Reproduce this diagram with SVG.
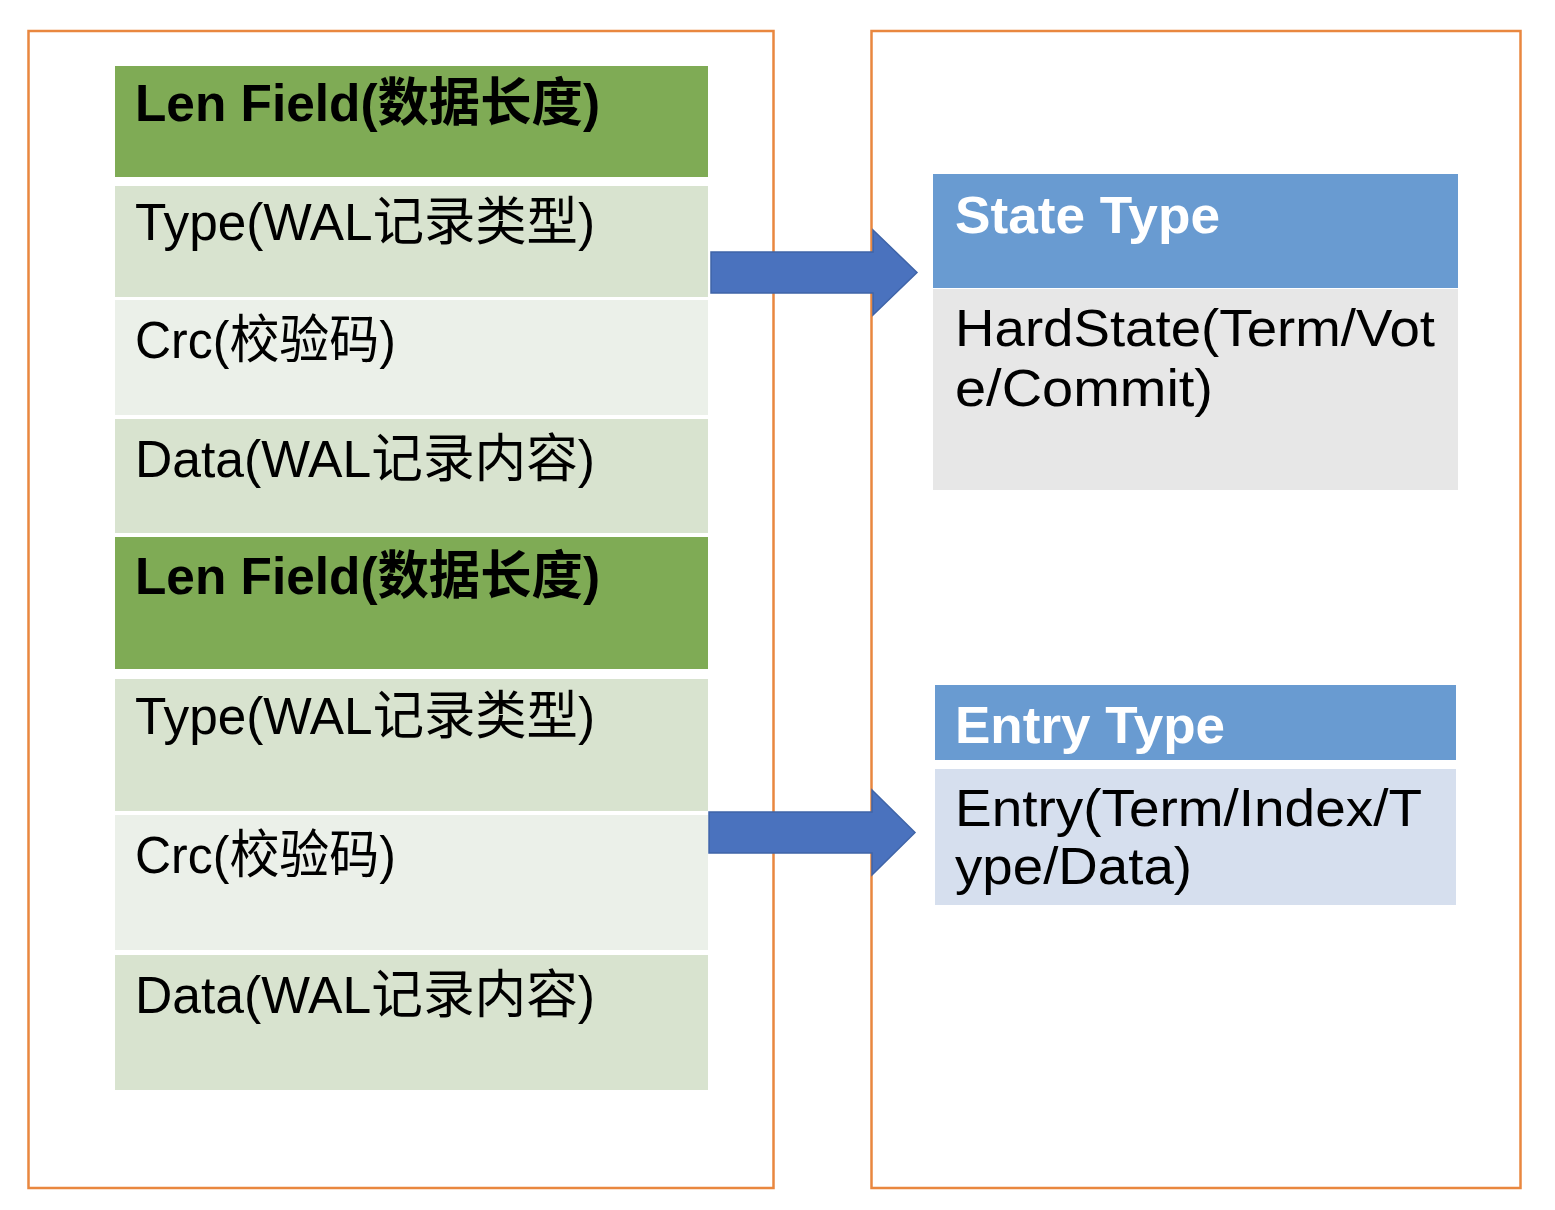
<svg xmlns="http://www.w3.org/2000/svg" width="1555" height="1210" viewBox="0 0 1555 1210">
<style>
.frame{fill:none;stroke:#E9873F;stroke-width:2.5}
.len{fill:#7FAB55}
.lg{fill:#D8E3CF}
.xl{fill:#EBF0E9}
.hdr{fill:#699BD1}
.t{font-family:"Liberation Sans","Noto Sans CJK SC",sans-serif;font-size:52px;fill:#000}
.b{font-weight:bold}
.w{fill:#fff}
.arrow{fill:#4A72BE;stroke:#3F64A8;stroke-width:1.5}
</style>
<rect width="1555" height="1210" fill="#fff"/>
<g id="frames">
<rect class="frame" x="28.5" y="31" width="745" height="1157"/>
<rect class="frame" x="871.5" y="31" width="649" height="1157"/>
</g>
<g id="len1"><rect class="len" x="115" y="66" width="593" height="111"/><text class="t b" x="135" y="121" textLength="465" lengthAdjust="spacingAndGlyphs">Len Field(数据长度)</text></g>
<g id="type1"><rect class="lg" x="115" y="186" width="593" height="111"/><text class="t" x="135" y="240" textLength="460" lengthAdjust="spacingAndGlyphs">Type(WAL记录类型)</text></g>
<g id="crc1"><rect class="xl" x="115" y="300" width="593" height="115"/><text class="t" x="135" y="358" textLength="261" lengthAdjust="spacingAndGlyphs">Crc(校验码)</text></g>
<g id="data1"><rect class="lg" x="115" y="419" width="593" height="114"/><text class="t" x="135" y="477" textLength="460" lengthAdjust="spacingAndGlyphs">Data(WAL记录内容)</text></g>
<g id="len2"><rect class="len" x="115" y="537" width="593" height="132"/><text class="t b" x="135" y="594" textLength="465" lengthAdjust="spacingAndGlyphs">Len Field(数据长度)</text></g>
<g id="type2"><rect class="lg" x="115" y="679" width="593" height="132"/><text class="t" x="135" y="734" textLength="460" lengthAdjust="spacingAndGlyphs">Type(WAL记录类型)</text></g>
<g id="crc2"><rect class="xl" x="115" y="815" width="593" height="135"/><text class="t" x="135" y="873" textLength="261" lengthAdjust="spacingAndGlyphs">Crc(校验码)</text></g>
<g id="data2"><rect class="lg" x="115" y="955" width="593" height="135"/><text class="t" x="135" y="1013" textLength="460" lengthAdjust="spacingAndGlyphs">Data(WAL记录内容)</text></g>
<g id="state">
<rect class="hdr" x="933" y="174" width="525" height="114"/>
<text class="t b w" x="955" y="233" textLength="265" lengthAdjust="spacingAndGlyphs">State Type</text>
<rect fill="#E7E7E7" x="933" y="289" width="525" height="201"/>
<text class="t" x="955" y="346" textLength="480" lengthAdjust="spacingAndGlyphs">HardState(Term/Vot</text>
<text class="t" x="955" y="406" textLength="258" lengthAdjust="spacingAndGlyphs">e/Commit)</text>
</g>
<g id="entry">
<rect class="hdr" x="935" y="685" width="521" height="75"/>
<text class="t b w" x="955" y="743" textLength="270" lengthAdjust="spacingAndGlyphs">Entry Type</text>
<rect fill="#D6DFEE" x="935" y="769" width="521" height="136"/>
<text class="t" x="955" y="826" textLength="467" lengthAdjust="spacingAndGlyphs">Entry(Term/Index/T</text>
<text class="t" x="955" y="884" textLength="237" lengthAdjust="spacingAndGlyphs">ype/Data)</text>
</g>
<g id="connectors">
<path class="arrow" d="M711,252 H873 V230 L917,272.5 L873,315 V293 H711 Z"/>
<path class="arrow" d="M709,812 H872 V790 L915,832.5 L872,875 V853 H709 Z"/>
</g>
</svg>
